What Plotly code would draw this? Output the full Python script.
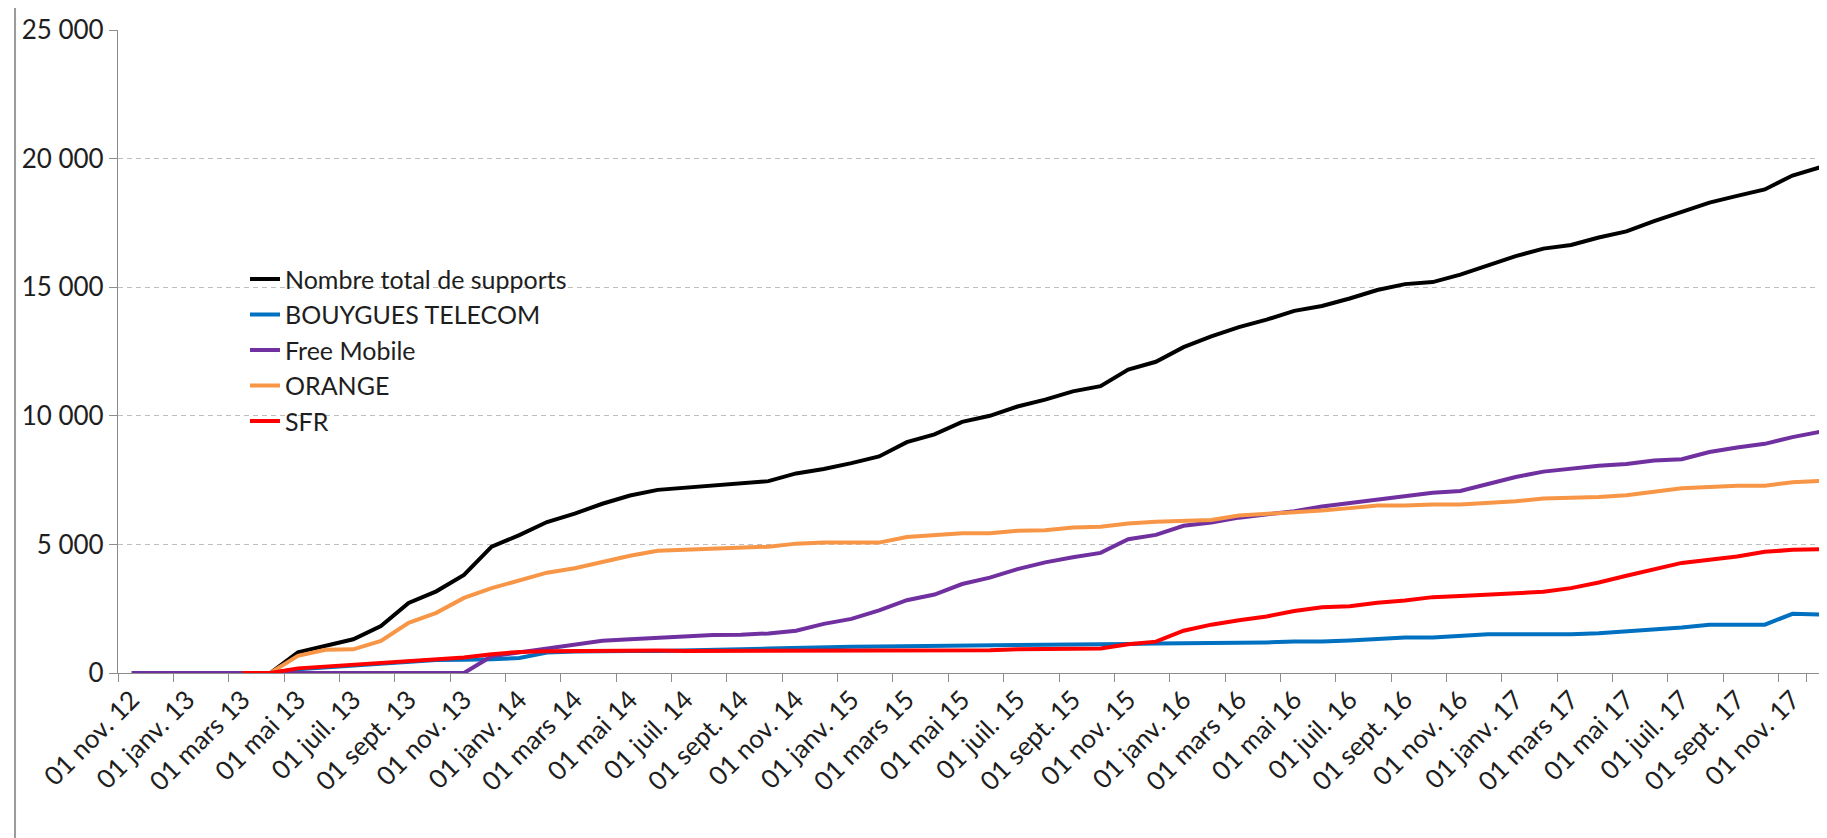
import plotly.graph_objects as go

months = [
    "01 nov. 12", "01 déc. 12",
    "01 janv. 13", "01 févr. 13", "01 mars 13", "01 avr. 13", "01 mai 13", "01 juin 13",
    "01 juil. 13", "01 août 13", "01 sept. 13", "01 oct. 13", "01 nov. 13", "01 déc. 13",
    "01 janv. 14", "01 févr. 14", "01 mars 14", "01 avr. 14", "01 mai 14", "01 juin 14",
    "01 juil. 14", "01 août 14", "01 sept. 14", "01 oct. 14", "01 nov. 14", "01 déc. 14",
    "01 janv. 15", "01 févr. 15", "01 mars 15", "01 avr. 15", "01 mai 15", "01 juin 15",
    "01 juil. 15", "01 août 15", "01 sept. 15", "01 oct. 15", "01 nov. 15", "01 déc. 15",
    "01 janv. 16", "01 févr. 16", "01 mars 16", "01 avr. 16", "01 mai 16", "01 juin 16",
    "01 juil. 16", "01 août 16", "01 sept. 16", "01 oct. 16", "01 nov. 16", "01 déc. 16",
    "01 janv. 17", "01 févr. 17", "01 mars 17", "01 avr. 17", "01 mai 17", "01 juin 17",
    "01 juil. 17", "01 août 17", "01 sept. 17", "01 oct. 17", "01 nov. 17", "01 déc. 17",
]

tick_labels = months[::2]

total = [0, 0, 0, 0, 0, 0, 800, 1050, 1310, 1825, 2725, 3175, 3815, 4910, 5360, 5870,
         6195, 6580, 6900, 7120, 7200, 7300, 7370, 7460, 7760, 7935, 8160, 8420, 8975,
         9280, 9765, 10000, 10360, 10630, 10950, 11150, 11800, 12100, 12670, 13090, 13450,
         13740, 14080, 14270, 14560, 14890, 15120, 15200, 15490, 15850, 16210, 16500, 16640,
         16930, 17170, 17570, 17930, 18290, 18550, 18800, 19340, 19660]

bouygues = [0, 0, 0, 0, 0, 0, 150, 215, 290, 380, 445, 510, 520, 530, 580, 800, 840, 860,
            860, 860, 870, 900, 920, 950, 980, 1000, 1020, 1030, 1040, 1040, 1040, 1050, 1080,
            1090, 1100, 1100, 1130, 1150, 1160, 1160, 1160, 1190, 1220, 1220, 1265, 1340, 1380,
            1380, 1440, 1510, 1510, 1510, 1510, 1550, 1620, 1700, 1770, 1880, 1880, 1880, 2300,
            2270]

free = [0, 0, 0, 0, 0, 0, 0, 0, 0, 0, 0, 0, 0, 650, 800, 960, 1120, 1250, 1310, 1375, 1435,
        1475, 1490, 1540, 1645, 1910, 2105, 2435, 2830, 3050, 3460, 3710, 4040, 4300, 4500,
        4670, 5200, 5370, 5725, 5855, 6040, 6150, 6290, 6470, 6610, 6750, 6870, 7010, 7080,
        7370, 7620, 7830, 7950, 8060, 8130, 8260, 8310, 8590, 8770, 8910, 9170, 9380]

orange = [None, None, None, None, None, 0, 670, 900, 920, 1250, 1950, 2340, 2920, 3300, 3620,
          3900, 4075, 4330, 4560, 4755, 4800, 4840, 4900, 4910, 5030, 5070, 5070, 5070, 5290,
          5370, 5435, 5435, 5530, 5550, 5660, 5685, 5815, 5880, 5920, 5950, 6120, 6180, 6250,
          6320, 6410, 6510, 6510, 6550, 6550, 6610, 6680, 6780, 6800, 6840, 6910, 7055, 7185,
          7230, 7285, 7285, 7415, 7470]

sfr = [None, None, None, None, 0, 0, 180, 245, 320, 410, 475, 540, 600, 730, 820, 850, 860,
       870, 870, 870, 860, 860, 860, 870, 870, 870, 870, 870, 880, 880, 880, 880, 920, 920,
       920, 950, 1120, 1220, 1645, 1880, 2050, 2200, 2410, 2560, 2600, 2730, 2820, 2950, 2990,
       3050, 3100, 3160, 3300, 3520, 3780, 4020, 4280, 4400, 4530, 4710, 4790, 4810]

y_ticks = [0, 5000, 10000, 15000, 20000, 25000]

series = [
    ("Nombre total de supports", total, "#000000"),
    ("BOUYGUES TELECOM", bouygues, "#0070C0"),
    ("Free Mobile", free, "#7030A0"),
    ("ORANGE", orange, "#F79646"),
    ("SFR", sfr, "#FF0000"),
]

fig = go.Figure()
for name, vals, col in series:
    fig.add_trace(go.Scatter(
        x=months, y=vals, mode="lines", name=name, legendgroup=name,
        line=dict(color=col, width=4), connectgaps=False,
    ))

axis_col = "#8C8C8C"
text_col = "#1E1E1E"
fig.update_layout(
    width=1827, height=838,
    margin=dict(l=110, r=1, t=22, b=173),
    plot_bgcolor="white", paper_bgcolor="white",
    separators=", ",
    font=dict(family="Lato", size=26, color=text_col),
    showlegend=True,
    legend=dict(x=0.074, y=0.648, xanchor="left", yanchor="top",
                bgcolor="rgba(0,0,0,0)", tracegroupgap=0,
                font=dict(family="Lato", size=25, color=text_col)),
    xaxis=dict(
        type="category", range=[-0.5, len(months) - 0.5],
        tickmode="array", tickvals=tick_labels, tickangle=-45,
        tickson="boundaries", ticks="outside", ticklen=8, tickcolor=axis_col,
        showline=True, linecolor=axis_col, linewidth=1.2, showgrid=False,
    ),
    yaxis=dict(
        range=[0, 25000], tickmode="array", tickvals=y_ticks, tickformat=",d",
        showgrid=True, gridcolor="#BFBFBF", griddash="5px,4px", gridwidth=1,
        ticks="outside", ticklen=8, tickcolor=axis_col,
        showline=True, linecolor=axis_col, linewidth=1.2, zeroline=False,
    ),
    shapes=[dict(type="line", xref="paper", yref="paper",
                 x0=-0.060, x1=-0.060, y0=-0.27, y1=1.04,
                 line=dict(color="#9A9A9A", width=2))],
)

fig.write_html("out.html")
